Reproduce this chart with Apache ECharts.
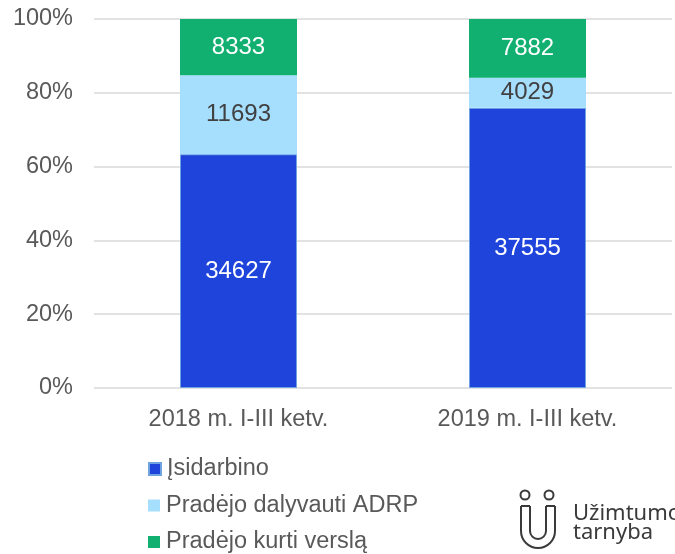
<!DOCTYPE html>
<html>
<head>
<meta charset="utf-8">
<script src="https://cdn.jsdelivr.net/npm/echarts@6/dist/echarts.min.js"></script>
<style>
  html, body { margin: 0; padding: 0; background: #fff; }
  #chart { width: 675px; height: 554px; }
</style>
</head>
<body>
<div id="chart"></div>
<script>
const categories = ['2018 m. I-III ketv.', '2019 m. I-III ketv.'];
const seriesNames = ['Įsidarbino', 'Pradėjo dalyvauti ADRP', 'Pradėjo kurti verslą'];
const isidarbino = [34627, 37555];
const adrp = [11693, 4029];
const verslas = [8333, 7882];
const yTicks = ['0%', '20%', '40%', '60%', '80%', '100%'];

const colors = ['#1F44DB', '#A6DEFE', '#12B070'];
const labelColors = ['#ffffff', '#404040', '#ffffff'];
const raw = [isidarbino, adrp, verslas];

// procentai kiekvienam stulpeliui
const totals = categories.map((c, i) => raw.reduce((s, arr) => s + arr[i], 0));

const series = raw.map((arr, k) => ({
  name: seriesNames[k],
  type: 'bar',
  stack: 'total',
  barWidth: 117,
  itemStyle: {
    color: colors[k],
    borderColor: k === 0 ? '#6FA3E0' : colors[k],
    borderWidth: k === 0 ? 1 : 0
  },
  label: {
    show: true,
    position: 'inside',
    color: labelColors[k],
    fontFamily: 'Liberation Sans, Arial',
    fontSize: 24,
    formatter: p => String(arr[p.dataIndex])
  },
  emphasis: { disabled: true },
  data: arr.map((v, i) => v / totals[i] * 100)
}));

// legenda: po vieną eilutę, kad nesilankstytų į du stulpelius
const legends = seriesNames.map((name, i) => ({
  data: [name],
  left: 148,
  top: 457 + i * 36.5,
  padding: 0,
  itemWidth: 12,
  itemHeight: 12,
  icon: 'rect',
  textStyle: {
    fontFamily: 'Liberation Sans, Arial',
    fontSize: 23.5,
    color: '#595959',
    padding: [0, 0, 0, 1]
  }
}));

const logoLine = { fill: 'none', stroke: '#3a3a3a', lineWidth: 2 };

let myChart = echarts.init(document.getElementById('chart'));
let option = {
  animation: false,
  grid: {
    left: 94,
    right: 3,
    top: 19,
    bottom: 166
  },
  legend: legends,
  xAxis: {
    type: 'category',
    data: categories,
    axisLine: { show: false },
    axisTick: { show: false },
    axisLabel: {
      margin: 20,
      fontFamily: 'Liberation Sans, Arial',
      fontSize: 23.5,
      color: '#595959'
    }
  },
  yAxis: {
    type: 'value',
    min: 0,
    max: 100,
    interval: 20,
    axisLine: { show: false },
    axisTick: { show: false },
    splitLine: { lineStyle: { color: '#D9D9D9', width: 1.5 } },
    axisLabel: {
      margin: 21,
      fontFamily: 'Liberation Sans, Arial',
      fontSize: 23.5,
      color: '#595959',
      padding: [3, 0, 0, 0],
      formatter: v => yTicks[Math.round(v / 20)]
    }
  },
  graphic: [
    { type: 'circle', shape: { cx: 525, cy: 495, r: 4.5 }, style: logoLine },
    { type: 'circle', shape: { cx: 549, cy: 495, r: 4.5 }, style: logoLine },
    // logotipo U forma
    { type: 'line', shape: { x1: 521, y1: 506, x2: 521, y2: 531 }, style: logoLine },
    { type: 'line', shape: { x1: 555, y1: 506, x2: 555, y2: 531 }, style: logoLine },
    { type: 'line', shape: { x1: 530, y1: 506, x2: 530, y2: 531 }, style: logoLine },
    { type: 'line', shape: { x1: 546, y1: 506, x2: 546, y2: 531 }, style: logoLine },
    { type: 'line', shape: { x1: 521, y1: 506, x2: 530, y2: 506 }, style: logoLine },
    { type: 'line', shape: { x1: 546, y1: 506, x2: 555, y2: 506 }, style: logoLine },
    { type: 'arc', shape: { cx: 538, cy: 531, r: 17, startAngle: 0, endAngle: Math.PI }, style: logoLine },
    { type: 'arc', shape: { cx: 538, cy: 531, r: 8, startAngle: 0, endAngle: Math.PI }, style: logoLine },
    {
      type: 'text', left: 573, top: 503,
      style: { text: 'Užimtumo', font: '22px "Noto Sans"', fill: '#3a3a3a' }
    },
    {
      type: 'text', left: 573, top: 522,
      style: { text: 'tarnyba', font: '22px "Noto Sans"', fill: '#3a3a3a' }
    }
  ],
  series: series
};
myChart.setOption(option);
</script>
</body>
</html>
